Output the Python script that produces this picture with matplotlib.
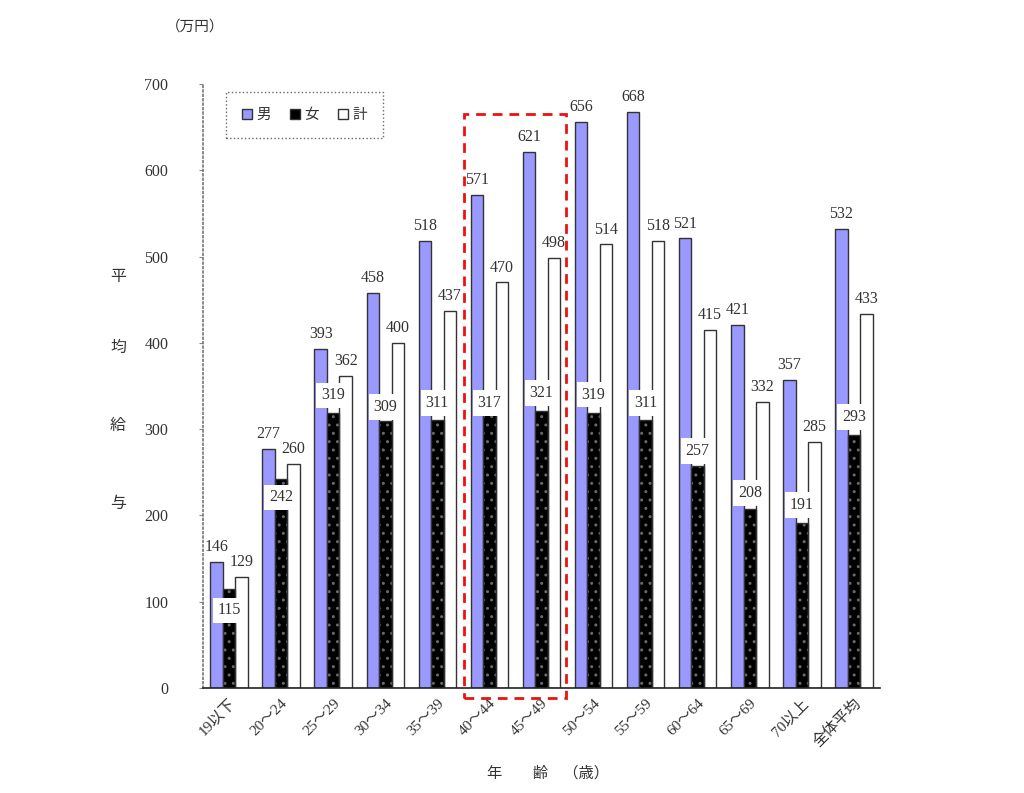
import matplotlib
matplotlib.use("Agg")
import matplotlib.pyplot as plt
import numpy as np
from matplotlib.patches import Rectangle, Patch

categories = ['19以下', '20～24', '25～29', '30～34', '35～39', '40～44', '45～49',
              '50～54', '55～59', '60～64', '65～69', '70以上', '全体平均']
male = [146, 277, 393, 458, 518, 571, 621, 656, 668, 521, 421, 357, 532]
female = [115, 242, 319, 309, 311, 317, 321, 319, 311, 257, 208, 191, 293]
total = [129, 260, 362, 400, 437, 470, 498, 514, 518, 415, 332, 285, 433]
series_names = ['男', '女', '計']
yticks = [0, 100, 200, 300, 400, 500, 600, 700]
# vertical placement of the female value boxes relative to the bar top (value units)
female_label_shift = [-25, -21, 20, 17, 19, 13, 21, 21, 19, 18, 18, 21, 21]

NUM = ['Liberation Serif', 'Noto Sans CJK JP']
JP = ['Noto Sans CJK JP', 'DejaVu Sans']
text_col = '#333333'
edge_col = '#333333'
male_col = '#9999FF'

fig = plt.figure(figsize=(10.24, 7.93), dpi=100)
ax = fig.add_axes([203/1024, 1-688/793, 677/1024, 604/793])

x = np.arange(len(categories))
w = 0.24
ax.bar(x - w, male, w, color=male_col, edgecolor=edge_col, linewidth=1.0, zorder=2)
ax.bar(x, female, w, color='black', edgecolor='#6a6a6a', hatch='..', linewidth=0, zorder=2)
ax.bar(x, female, w, fill=False, edgecolor=edge_col, linewidth=1.0, zorder=2.1)
ax.bar(x + w, total, w, color='white', edgecolor=edge_col, linewidth=1.0, zorder=2)

fs = 11.5
for i in range(len(categories)):
    ax.text(x[i] - w, male[i] + 8, str(male[i]), ha='center', va='bottom',
            fontsize=fs, family=NUM, color=text_col, zorder=5)
    ax.text(x[i] + w, total[i] + 8, str(total[i]), ha='center', va='bottom',
            fontsize=fs, family=NUM, color=text_col, zorder=5)
    ax.text(x[i], female[i] + female_label_shift[i], str(female[i]), ha='center',
            va='center', fontsize=fs, family=NUM, color=text_col, zorder=6,
            bbox=dict(boxstyle='square,pad=0.3', facecolor='white', edgecolor='none'))

ax.set_xlim(-0.5, len(categories) - 0.5)
ax.set_ylim(0, 700)
ax.set_yticks(yticks)
ax.set_yticklabels([str(v) for v in yticks], family=NUM, fontsize=11.5, color=text_col)
ax.set_xticks(x)
ax.set_xticklabels(categories, rotation=45, ha='right', rotation_mode='anchor',
                   family=NUM, fontsize=11, color=text_col)
ax.tick_params(axis='x', length=0, pad=6)
ax.tick_params(axis='y', length=3, width=0.8, color='#888888', pad=22, direction='out')
ax.spines['top'].set_visible(False)
ax.spines['right'].set_visible(False)
ax.spines['left'].set_linestyle(':')
ax.spines['left'].set_color('#777777')
ax.spines['left'].set_linewidth(1.2)
ax.spines['bottom'].set_color('#222222')
ax.spines['bottom'].set_linewidth(1.2)
ax.spines['bottom'].set_zorder(3)

# legend
handles = [Patch(facecolor=male_col, edgecolor=edge_col),
           Patch(facecolor='black', edgecolor=edge_col),
           Patch(facecolor='white', edgecolor=edge_col)]
leg = ax.legend(handles, series_names, loc='center', ncol=3,
                bbox_to_anchor=(0.034, 0.911, 0.232, 0.076), mode='expand',
                prop={'family': JP, 'size': 10.5}, frameon=True, fancybox=False,
                handlelength=0.7, handleheight=0.7, handletextpad=0.3,
                columnspacing=1.5, borderaxespad=0, borderpad=1.1)
fr = leg.get_frame()
fr.set_linestyle(':')
fr.set_edgecolor('#444444')
fr.set_linewidth(1.0)
for t in leg.get_texts():
    t.set_color(text_col)

# highlighted range (40～44 and 45～49)
ax.add_patch(Rectangle((4.51, -11.5), 1.96, 677, fill=False, edgecolor='#EE1111',
                       linestyle=(0, (3.5, 2.5)), linewidth=2.0, clip_on=False, zorder=7))

# texts
fig.text(195/1024, 1-27/793, '（万円）', ha='center', va='center', family=JP,
         fontsize=10.5, color=text_col)
for ch, yy in zip('平均給与', [276, 347, 425, 503]):
    fig.text(118/1024, 1-yy/793, ch, ha='center', va='center', family=JP,
             fontsize=11.5, color=text_col)
fig.text(548/1024, 1-773/793, '年　　齢　（歳）', ha='center', va='center', family=JP,
         fontsize=11, color=text_col)

fig.savefig('out.png', dpi=100)
